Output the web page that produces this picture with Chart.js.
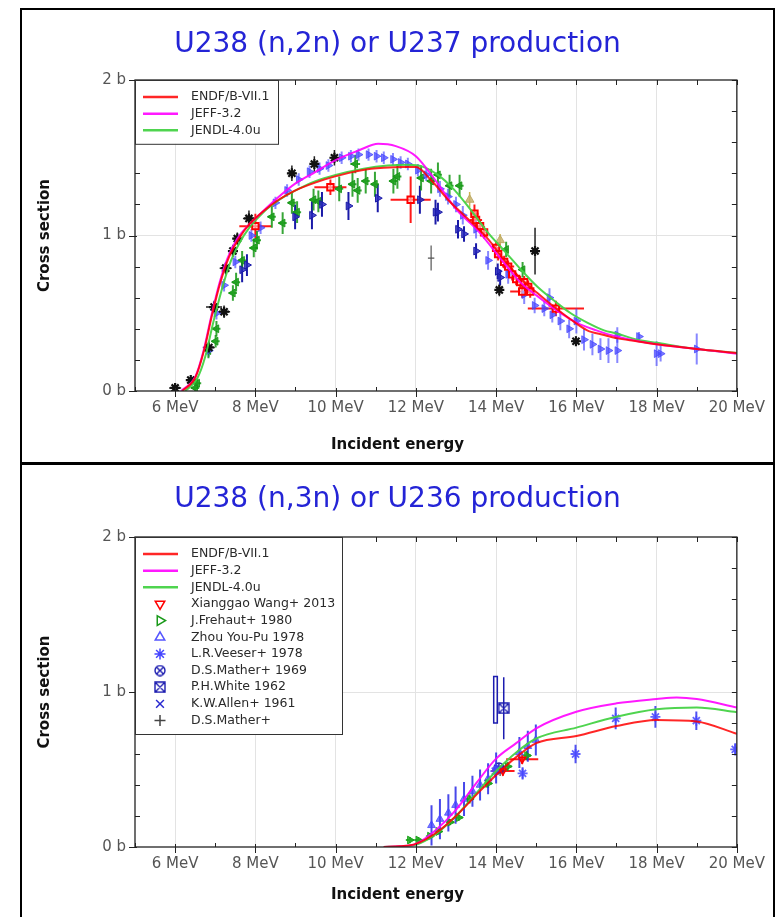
<!DOCTYPE html>
<html>
<head>
<meta charset="utf-8">
<title>U238 (n,2n) / (n,3n)</title>
<script src="https://cdn.jsdelivr.net/npm/chart.js@4.4.1/dist/chart.umd.min.js"></script>
<style>
    html, body { margin: 0; padding: 0; background: #fff; }
    body { width: 776px; height: 917px; position: relative; overflow: hidden; }
    .panel { position: absolute; left: 20px; width: 751px; border: 2px solid #000; background: #fff; }
    #panel1 { top: 8px; height: 452px; }
    #panel2 { top: 463px; height: 452px; }
    canvas { display: block; }
</style>
</head>
<body>
<div class="panel" id="panel1"><canvas id="chart2n" width="751" height="452"></canvas></div>
<div class="panel" id="panel2"><canvas id="chart3n" width="751" height="452"></canvas></div>
<script>
// U238 (n,2n) - evaluated curves
const endf2nE  = [6.18, 6.51, 6.72, 6.93, 7.13, 7.34, 7.59, 7.84, 8.17, 8.58, 9.0, 9.49, 9.99, 10.65, 11.2, 11.7, 12.0, 12.4, 12.8, 13.2, 13.79, 14.21, 14.62, 15.03, 15.45, 15.86, 16.27, 16.69, 17.0, 17.5, 18.0, 19.0, 20.0];
const endf2nXS = [0.0, 0.09, 0.26, 0.50, 0.70, 0.86, 0.98, 1.07, 1.15, 1.23, 1.29, 1.34, 1.38, 1.42, 1.435, 1.44, 1.44, 1.35, 1.23, 1.13, 0.98, 0.84, 0.72, 0.63, 0.54, 0.46, 0.39, 0.36, 0.34, 0.32, 0.30, 0.27, 0.245];
const jeff2nE  = [6.15, 6.5, 6.7, 6.9, 7.1, 7.3, 7.55, 7.8, 8.0, 8.5, 9.0, 9.44, 10.0, 10.6, 11.06, 11.5, 12.0, 12.5, 13.0, 13.55, 14.21, 14.6, 15.03, 15.5, 16.0, 16.5, 17.0, 18.0, 19.0, 20.0];
const jeff2nXS = [0.0, 0.09, 0.25, 0.48, 0.69, 0.85, 0.98, 1.06, 1.11, 1.23, 1.335, 1.40, 1.485, 1.55, 1.59, 1.575, 1.51, 1.35, 1.17, 1.03, 0.82, 0.70, 0.61, 0.52, 0.44, 0.39, 0.35, 0.30, 0.27, 0.24];
const jendl2nE  = [6.25, 6.55, 6.75, 6.95, 7.15, 7.35, 7.6, 7.85, 8.2, 8.6, 9.0, 9.5, 10.0, 10.7, 11.3, 11.8, 12.2, 12.55, 12.97, 13.38, 13.79, 14.21, 14.62, 15.03, 15.45, 15.86, 16.27, 16.69, 17.0, 17.52, 18.0, 19.0, 20.0];
const jendl2nXS = [0.0, 0.08, 0.22, 0.44, 0.64, 0.81, 0.95, 1.05, 1.15, 1.23, 1.29, 1.35, 1.39, 1.43, 1.45, 1.455, 1.44, 1.39, 1.29, 1.16, 1.02, 0.90, 0.78, 0.67, 0.58, 0.50, 0.44, 0.39, 0.37, 0.33, 0.31, 0.27, 0.245];

// U238 (n,2n) - measurements (no legend entries in the original)
const starE   = [6.0, 6.39, 6.84, 6.97, 7.22, 7.26, 7.44, 7.55, 7.84, 8.91, 9.47, 9.97, 14.08, 14.97, 15.99];
const starXS  = [0.02, 0.07, 0.28, 0.54, 0.51, 0.79, 0.90, 0.98, 1.11, 1.40, 1.46, 1.50, 0.65, 0.90, 0.32];
const starDXS = [0.01, 0.02, 0.04, 0.04, 0.04, 0.04, 0.04, 0.04, 0.05, 0.05, 0.05, 0.05, 0.04, 0.15, 0.03];
const starDE  = [0.15, 0.12, 0.15, 0.2, 0.15, 0.15, 0.12, 0.12, 0.15, 0.1, 0.1, 0.1, 0.05, 0.0, 0.1];

const greenE   = [6.5, 6.55, 6.83, 7.01, 7.03, 7.44, 7.52, 7.67, 7.96, 8.04, 8.41, 8.68, 8.91, 9.04, 9.45, 9.57, 10.09, 10.42, 10.49, 10.55, 10.75, 10.98, 11.44, 11.54, 12.13, 12.38, 12.55, 12.84, 13.09, 14.25, 14.66];
const greenXS  = [0.02, 0.05, 0.26, 0.32, 0.40, 0.63, 0.70, 0.84, 0.92, 0.97, 1.12, 1.08, 1.21, 1.15, 1.23, 1.22, 1.30, 1.33, 1.46, 1.29, 1.35, 1.33, 1.35, 1.38, 1.37, 1.35, 1.39, 1.32, 1.32, 0.91, 0.78];
const greenDXS = [0.02, 0.03, 0.05, 0.04, 0.05, 0.05, 0.06, 0.06, 0.06, 0.06, 0.07, 0.07, 0.07, 0.07, 0.07, 0.07, 0.08, 0.08, 0.06, 0.08, 0.08, 0.08, 0.08, 0.08, 0.08, 0.08, 0.08, 0.07, 0.07, 0.05, 0.05];
const greenDE  = [0.1, 0.1, 0.1, 0.1, 0.1, 0.1, 0.1, 0.1, 0.1, 0.1, 0.1, 0.1, 0.1, 0.1, 0.1, 0.1, 0.1, 0.1, 0.12, 0.1, 0.1, 0.1, 0.1, 0.1, 0.1, 0.1, 0.1, 0.1, 0.1, 0.05, 0.05];

const navyE   = [7.67, 7.79, 8.99, 9.41, 9.66, 10.32, 11.05, 12.10, 12.49, 12.55, 13.05, 13.2, 13.5, 14.04, 14.1];
const navyXS  = [0.78, 0.81, 1.12, 1.13, 1.20, 1.19, 1.24, 1.23, 1.15, 1.15, 1.04, 1.01, 0.90, 0.77, 0.73];
const navyDXS = [0.08, 0.07, 0.08, 0.09, 0.08, 0.09, 0.09, 0.09, 0.08, 0.06, 0.06, 0.05, 0.05, 0.05, 0.05];

const lblueE   = [6.84, 7.03, 7.22, 7.5, 7.9, 8.13, 8.5, 8.79, 9.08, 9.35, 9.6, 9.82, 10.15, 10.38, 10.57, 10.82, 11.02, 11.2, 11.43, 11.62, 11.8, 12.05, 12.26, 12.6, 12.8, 13.0, 13.17, 13.5, 13.8, 14.3, 14.7, 14.96, 15.2, 15.33, 15.4, 15.6, 15.82, 16.0, 16.19, 16.4, 16.6, 16.8, 17.02, 17.02, 17.56, 18.0, 18.1, 19.0];
const lblueXS  = [0.26, 0.50, 0.68, 0.83, 1.00, 1.05, 1.21, 1.29, 1.36, 1.41, 1.43, 1.45, 1.50, 1.51, 1.52, 1.52, 1.51, 1.50, 1.49, 1.47, 1.46, 1.42, 1.39, 1.30, 1.25, 1.20, 1.13, 1.04, 0.84, 0.75, 0.62, 0.55, 0.53, 0.60, 0.49, 0.45, 0.40, 0.45, 0.33, 0.30, 0.27, 0.26, 0.26, 0.36, 0.35, 0.24, 0.24, 0.27];
const lblueDXS = [0.04, 0.04, 0.04, 0.04, 0.04, 0.04, 0.04, 0.04, 0.04, 0.04, 0.04, 0.04, 0.04, 0.04, 0.04, 0.04, 0.04, 0.04, 0.04, 0.04, 0.04, 0.04, 0.04, 0.05, 0.05, 0.05, 0.06, 0.06, 0.06, 0.06, 0.06, 0.05, 0.05, 0.06, 0.05, 0.06, 0.06, 0.08, 0.07, 0.07, 0.07, 0.08, 0.08, 0.05, 0.03, 0.08, 0.05, 0.1];

const squareE   = [8.0, 9.87, 11.87, 13.46, 13.5, 13.6, 13.7, 14.0, 14.05, 14.2, 14.3, 14.4, 14.5, 14.6, 14.65, 14.7, 14.8, 14.85, 15.49];
const squareXS  = [1.06, 1.31, 1.23, 1.14, 1.10, 1.06, 1.02, 0.92, 0.88, 0.83, 0.80, 0.75, 0.72, 0.70, 0.64, 0.70, 0.67, 0.64, 0.53];
const squareDXS = [0.08, 0.05, 0.15, 0.06, 0.05, 0.04, 0.04, 0.04, 0.04, 0.04, 0.04, 0.04, 0.04, 0.04, 0.04, 0.04, 0.04, 0.04, 0.05];
const squareDE  = [0.4, 0.4, 0.5, 0.1, 0.15, 0.1, 0.1, 0.1, 0.1, 0.1, 0.15, 0.1, 0.1, 0.1, 0.3, 0.1, 0.1, 0.1, 0.7];

const tanE = [13.34, 14.1];
const tanXS = [1.23, 0.97];
const tanDXS = [0.05, 0.04];

const plusE = [12.38];
const plusXS = [0.855];
const plusDXS = [0.08];
const plusDE = [0.08];

// U238 (n,3n) - evaluated curves
const endf3nE  = [11.2, 11.6, 12.0, 12.5, 13.0, 13.5, 14.0, 14.5, 15.0, 16.0, 17.0, 18.0, 19.0, 20.0];
const endf3nXS = [0.0, 0.005, 0.02, 0.09, 0.2, 0.335, 0.465, 0.58, 0.67, 0.716, 0.78, 0.82, 0.81, 0.73];
const jeff3nE  = [11.2, 11.6, 12.0, 12.5, 13.0, 13.5, 14.0, 14.5, 15.0, 16.0, 17.0, 18.0, 18.5, 19.0, 20.0];
const jeff3nXS = [0.0, 0.005, 0.02, 0.11, 0.24, 0.41, 0.57, 0.67, 0.766, 0.873, 0.927, 0.955, 0.965, 0.955, 0.90];
const jendl3nE  = [11.2, 11.6, 12.0, 12.5, 13.0, 13.5, 14.0, 14.5, 15.0, 16.0, 17.0, 18.0, 19.0, 20.0];
const jendl3nXS = [0.0, 0.004, 0.015, 0.085, 0.2, 0.345, 0.49, 0.61, 0.70, 0.77, 0.84, 0.888, 0.90, 0.87];

// U238 (n,3n) - measurements
const wangE = [14.17, 14.65];
const wangXS = [0.49, 0.566];
const wangDXS = [0.03, 0.03];
const wangDE = [0.29, 0.40];

const frehautE   = [11.85, 12.06, 12.35, 12.56, 12.85, 13.07, 13.34, 13.8, 14.29, 14.77];
const frehautXS  = [0.045, 0.045, 0.07, 0.10, 0.16, 0.19, 0.31, 0.41, 0.52, 0.59];
const frehautDXS = [0.02, 0.02, 0.02, 0.02, 0.02, 0.02, 0.03, 0.03, 0.03, 0.03];
const frehautDE  = [0.1, 0.1, 0.1, 0.1, 0.1, 0.1, 0.1, 0.1, 0.1, 0.1];

const zhouE   = [12.39, 12.6, 12.81, 12.99, 13.2, 13.41, 13.6, 13.8, 14.0, 14.58, 14.79, 14.99];
const zhouXS  = [0.14, 0.18, 0.22, 0.27, 0.31, 0.36, 0.40, 0.44, 0.51, 0.61, 0.65, 0.69];
const zhouDXS = [0.13, 0.13, 0.12, 0.12, 0.11, 0.10, 0.10, 0.10, 0.10, 0.10, 0.10, 0.10];

const veeserE   = [13.98, 14.66, 15.98, 16.98, 17.97, 18.99, 19.96];
const veeserXS  = [0.49, 0.475, 0.60, 0.83, 0.84, 0.815, 0.63];
const veeserDXS = [0.04, 0.04, 0.06, 0.07, 0.07, 0.06, 0.04];

const mather69E = [14.07];
const mather69XS = [0.51];
const mather69DXS = [0.03];

const whiteE = [14.19];
const whiteXS = [0.895];
const whiteDXS = [0.2];
const whiteBoxE = [13.985];
const whiteBoxXS = [0.95];
const whiteBoxDE = [0.045];
const whiteBoxDXS = [0.15];

const allenE = [14.1];
const allenXS = [0.50];
const matherE = [14.1];
const matherXS = [0.49];

const FONT = '"DejaVu Sans", Verdana, sans-serif';

// pair up energies / cross sections (+ optional errors)
function pts(es, xs, dxs, des) {
    return es.map((e, i) => ({
        x: e,
        y: xs[i],
        dy: dxs ? dxs[i] : 0,
        dx: des ? des[i] : 0
    }));
}

// small symbol images for circle-cross and box-cross markers
function symbol(kind, color) {
    const c = document.createElement('canvas');
    c.width = c.height = 12;
    const g = c.getContext('2d');
    g.strokeStyle = color;
    g.lineWidth = 1.4;
    const m = 6, r = 5;
    g.beginPath();
    if (kind === 'circle') {
        g.arc(m, m, r, 0, Math.PI * 2);
        const d = r * 0.707;
        g.moveTo(m - d, m - d); g.lineTo(m + d, m + d);
        g.moveTo(m - d, m + d); g.lineTo(m + d, m - d);
    } else {
        g.rect(1, 1, 10, 10);
        g.moveTo(1, 1); g.lineTo(11, 11);
        g.moveTo(1, 11); g.lineTo(11, 1);
    }
    g.stroke();
    return c;
}

function curve(label, data, color) {
    return {
        label, data, showLine: true, borderColor: color, backgroundColor: color,
        borderWidth: 2, pointRadius: 0, cubicInterpolationMode: 'monotone'
    };
}

function marks(label, data, style) {
    return Object.assign({ label, data, showLine: false, errWidth: 1.5 }, style);
}

// error bars, drawn under the markers
const errorBars = {
    id: 'errorBars',
    beforeDatasetsDraw(chart) {
        const { ctx, chartArea: a, scales: { x, y } } = chart;
        ctx.save();
        ctx.beginPath();
        ctx.rect(a.left, a.top, a.right - a.left, a.bottom - a.top);
        ctx.clip();
        chart.data.datasets.forEach(ds => {
            if (!ds.errColor) return;
            ctx.strokeStyle = ds.errColor;
            ctx.lineWidth = ds.errWidth;
            ds.data.forEach(p => {
                const px = x.getPixelForValue(p.x);
                const py = y.getPixelForValue(p.y);
                if (ds.errBox) {
                    const x0 = x.getPixelForValue(p.x - p.dx), x1 = x.getPixelForValue(p.x + p.dx);
                    const y0 = y.getPixelForValue(p.y + p.dy), y1 = y.getPixelForValue(p.y - p.dy);
                    ctx.strokeRect(x0, y0, x1 - x0, y1 - y0);
                    return;
                }
                ctx.beginPath();
                if (p.dy) {
                    ctx.moveTo(px, y.getPixelForValue(p.y - p.dy));
                    ctx.lineTo(px, y.getPixelForValue(p.y + p.dy));
                }
                if (p.dx) {
                    ctx.moveTo(x.getPixelForValue(p.x - p.dx), py);
                    ctx.lineTo(x.getPixelForValue(p.x + p.dx), py);
                }
                ctx.stroke();
            });
        });
        ctx.restore();
    }
};

// frame of the plot with tick marks on all four sides
const boxTicks = {
    id: 'boxTicks',
    afterDatasetsDraw(chart) {
        const { ctx, chartArea: a, scales: { x, y } } = chart;
        ctx.save();
        ctx.strokeStyle = '#222';
        ctx.lineWidth = 1;
        ctx.beginPath();
        x.ticks.forEach(t => {
            const px = Math.round(x.getPixelForValue(t.value)) + 0.5;
            const major = t.value % 2 === 0;
            ctx.moveTo(px, a.bottom + (major ? 6 : 0));
            ctx.lineTo(px, a.bottom - (major ? 3 : 4));
            ctx.moveTo(px, a.top);
            ctx.lineTo(px, a.top + 5);
        });
        y.ticks.forEach(t => {
            const py = Math.round(y.getPixelForValue(t.value)) + 0.5;
            const major = Math.abs(t.value - Math.round(t.value)) < 1e-6;
            ctx.moveTo(a.left - (major ? 6 : 0), py);
            ctx.lineTo(a.left + (major ? 2 : 5), py);
            ctx.moveTo(a.right, py);
            ctx.lineTo(a.right - 5, py);
        });
        ctx.stroke();
        ctx.lineWidth = 1.3;
        ctx.strokeRect(a.left, a.top, a.right - a.left, a.bottom - a.top);
        ctx.restore();
    }
};

// legend box sitting in the top-left corner of the plot
const boxLegend = {
    id: 'boxLegend',
    afterDraw(chart, args, opts) {
        const { ctx, chartArea: a } = chart;
        const items = chart.data.datasets.filter(d => d.label);
        const rowH = 16.65;
        const h = 17 + (items.length - 1) * rowH + 13.5;
        ctx.save();
        ctx.fillStyle = '#fff';
        ctx.fillRect(a.left, a.top, opts.width, h);
        ctx.strokeStyle = '#333';
        ctx.lineWidth = 1;
        ctx.strokeRect(a.left + 0.5, a.top + 0.5, opts.width, h);
        ctx.font = '12.5px ' + FONT;
        ctx.textBaseline = 'middle';
        items.forEach((d, i) => {
            const yy = a.top + 17 + i * rowH;
            if (d.showLine) {
                ctx.strokeStyle = d.borderColor;
                ctx.lineWidth = 2.5;
                ctx.beginPath();
                ctx.moveTo(a.left + 8, yy);
                ctx.lineTo(a.left + 43, yy);
                ctx.stroke();
            } else {
                ctx.strokeStyle = d.legendColor || d.borderColor;
                ctx.fillStyle = '#fff';
                ctx.lineWidth = 1.5;
                Chart.helpers.drawPoint(ctx, {
                    pointStyle: d.pointStyle,
                    rotation: d.pointRotation || 0,
                    radius: 5.5,
                    borderWidth: 1.5
                }, a.left + 25, yy);
            }
            ctx.fillStyle = '#2a2a2a';
            ctx.fillText(d.label, a.left + 56, yy);
        });
        ctx.restore();
    }
};

function makeChart(id, titleText, datasets, opts) {
    return new Chart(document.getElementById(id), {
        type: 'scatter',
        data: { datasets },
        options: {
            responsive: false,
            animation: false,
            devicePixelRatio: 1,
            events: [],
            layout: { padding: 0 },
            plugins: {
                legend: { display: false },
                tooltip: { enabled: false },
                title: {
                    display: true,
                    text: titleText,
                    color: '#2424d6',
                    font: { family: FONT, size: 28, weight: 'normal' },
                    padding: { top: 18.2, bottom: opts.titleBottom }
                },
                subtitle: {
                    display: true,
                    position: 'bottom',
                    text: 'Incident energy',
                    color: '#111',
                    font: { family: FONT, size: 15, weight: 'bold' },
                    padding: { top: opts.subTop, bottom: opts.subBottom }
                },
                boxLegend: { width: opts.legendWidth }
            },
            scales: {
                x: {
                    type: 'linear',
                    min: 5,
                    max: 20,
                    border: { display: false },
                    grid: {
                        drawTicks: false,
                        color: c => (c.tick && c.tick.value % 2 === 0) ? '#e3e3e3' : 'rgba(0,0,0,0)'
                    },
                    ticks: {
                        stepSize: 1,
                        autoSkip: false,
                        maxRotation: 0,
                        padding: 8,
                        color: '#555',
                        font: { family: FONT, size: 15 },
                        callback: v => (v % 2 === 0 && v >= 6) ? v + ' MeV' : ''
                    },
                    afterFit: s => { s.height = opts.xHeight; }
                },
                y: {
                    type: 'linear',
                    min: 0,
                    max: 2,
                    border: { display: false },
                    grid: {
                        drawTicks: false,
                        color: c => (c.tick && Math.abs(c.tick.value - 1) < 1e-6) ? '#e3e3e3' : 'rgba(0,0,0,0)'
                    },
                    ticks: {
                        stepSize: 0.2,
                        autoSkip: false,
                        padding: 9,
                        color: '#555',
                        font: { family: FONT, size: 15 },
                        callback: v => Math.abs(v - Math.round(v)) < 1e-6 ? Math.round(v) + ' b' : ''
                    },
                    title: {
                        display: true,
                        text: 'Cross section',
                        color: '#111',
                        font: { family: FONT, size: 15, weight: 'bold' },
                        padding: { top: 14, bottom: 0 }
                    },
                    afterFit: s => { s.width = 113; }
                },
                y2: {
                    type: 'linear',
                    position: 'right',
                    min: 0,
                    max: 2,
                    border: { display: false },
                    grid: { display: false, drawTicks: false },
                    ticks: { display: false },
                    afterFit: s => { s.width = 33; }
                }
            }
        },
        plugins: [errorBars, boxTicks, boxLegend]
    });
}

const RED = 'rgba(255,0,0,0.85)';
const MAGENTA = 'rgba(255,0,255,0.9)';
const GREEN = 'rgba(70,210,70,0.95)';

// (n,2n) panel
makeChart('chart2n', 'U238 (n,2n) or U237 production', [
    curve('ENDF/B-VII.1', pts(endf2nE, endf2nXS), RED),
    curve('JEFF-3.2', pts(jeff2nE, jeff2nXS), MAGENTA),
    curve('JENDL-4.0u', pts(jendl2nE, jendl2nXS), GREEN),
    marks('', pts(squareE, squareXS, squareDXS, squareDE), {
        pointStyle: 'rect', pointRadius: 4.5, borderWidth: 2,
        borderColor: '#f00', backgroundColor: 'rgba(255,255,255,0.5)',
        errColor: 'rgba(255,0,0,0.9)', errWidth: 2
    }),
    marks('', pts(starE, starXS, starDXS, starDE), {
        pointStyle: 'star', pointRadius: 5, borderWidth: 2.2,
        borderColor: '#111', backgroundColor: '#111', errColor: '#222'
    }),
    marks('', pts(plusE, plusXS, plusDXS, plusDE), {
        pointStyle: 'cross', pointRadius: 0, borderWidth: 1,
        borderColor: '#555', errColor: '#555', errWidth: 1.2
    }),
    marks('', pts(tanE, tanXS, tanDXS), {
        pointStyle: 'triangle', pointRadius: 5, borderWidth: 1,
        borderColor: 'rgba(185,165,95,0.9)', backgroundColor: 'rgba(200,180,110,0.85)',
        errColor: 'rgba(200,170,60,0.9)'
    }),
    marks('', pts(lblueE, lblueXS, lblueDXS), {
        pointStyle: 'triangle', pointRotation: 90, pointRadius: 4.5, borderWidth: 1,
        borderColor: 'rgba(70,70,255,0.75)', backgroundColor: 'rgba(70,70,255,0.7)',
        errColor: 'rgba(70,70,255,0.65)', errWidth: 2
    }),
    marks('', pts(navyE, navyXS, navyDXS), {
        pointStyle: 'triangle', pointRotation: 90, pointRadius: 4.5, borderWidth: 1,
        borderColor: '#1a1aa8', backgroundColor: 'rgba(40,40,190,0.8)',
        errColor: '#1a1aa8', errWidth: 2
    }),
    marks('', pts(greenE, greenXS, greenDXS, greenDE), {
        pointStyle: 'triangle', pointRotation: -90, pointRadius: 4.5, borderWidth: 1,
        borderColor: 'rgba(20,150,20,0.9)', backgroundColor: 'rgba(30,160,30,0.85)',
        errColor: 'rgba(20,150,20,0.85)', errWidth: 2
    })
], { legendWidth: 143, titleBottom: 18.2, xHeight: 40, subTop: 5, subBottom: 8 });

// (n,3n) panel
makeChart('chart3n', 'U238 (n,3n) or U236 production', [
    curve('ENDF/B-VII.1', pts(endf3nE, endf3nXS), RED),
    curve('JEFF-3.2', pts(jeff3nE, jeff3nXS), MAGENTA),
    curve('JENDL-4.0u', pts(jendl3nE, jendl3nXS), GREEN),
    marks('Xianggao Wang+ 2013', pts(wangE, wangXS, wangDXS, wangDE), {
        pointStyle: 'triangle', pointRotation: 180, pointRadius: 4, borderWidth: 1.5,
        borderColor: '#f00', backgroundColor: 'rgba(255,0,0,0.4)',
        errColor: 'rgba(255,0,0,0.9)', errWidth: 2
    }),
    marks('J.Frehaut+ 1980', pts(frehautE, frehautXS, frehautDXS, frehautDE), {
        pointStyle: 'triangle', pointRotation: 90, pointRadius: 4.5, borderWidth: 1,
        borderColor: 'rgba(20,160,20,0.9)', backgroundColor: 'rgba(30,170,30,0.8)',
        legendColor: '#1a9a1a', errColor: 'rgba(20,160,20,0.85)', errWidth: 2
    }),
    marks('Zhou You-Pu 1978', pts(zhouE, zhouXS, zhouDXS), {
        pointStyle: 'triangle', pointRadius: 4.5, borderWidth: 1,
        borderColor: 'rgba(70,70,255,0.8)', backgroundColor: 'rgba(70,70,255,0.7)',
        legendColor: '#5555ff', errColor: 'rgba(40,40,230,0.85)', errWidth: 2
    }),
    marks('L.R.Veeser+ 1978', pts(veeserE, veeserXS, veeserDXS), {
        pointStyle: 'star', pointRadius: 5, borderWidth: 1.8,
        borderColor: 'rgba(70,70,255,0.85)', backgroundColor: 'rgba(70,70,255,0.85)',
        legendColor: '#4444ff', errColor: 'rgba(50,50,240,0.85)', errWidth: 2
    }),
    marks('D.S.Mather+ 1969', pts(mather69E, mather69XS, mather69DXS), {
        pointStyle: symbol('circle', '#1c1cb0'), pointRadius: 6, borderWidth: 1,
        borderColor: '#1c1cb0', errColor: '#1c1cb0'
    }),
    marks('P.H.White 1962', pts(whiteE, whiteXS, whiteDXS), {
        pointStyle: symbol('box', '#1c1cb0'), pointRadius: 6, borderWidth: 1,
        borderColor: '#1c1cb0', errColor: '#1c1cb0'
    }),
    marks('K.W.Allen+ 1961', pts(allenE, allenXS), {
        pointStyle: 'crossRot', pointRadius: 4.5, borderWidth: 1.5,
        borderColor: '#2a2ad0'
    }),
    marks('D.S.Mather+', pts(matherE, matherXS), {
        pointStyle: 'cross', pointRadius: 5, borderWidth: 1.2,
        borderColor: '#444'
    }),
    marks('', pts(whiteBoxE, whiteBoxXS, whiteBoxDXS, whiteBoxDE), {
        pointRadius: 0, borderColor: '#1c1cb0', errColor: '#1c1cb0', errBox: true
    })
], { legendWidth: 207, titleBottom: 20.2, xHeight: 36, subTop: 3, subBottom: 13 });
</script>
</body>
</html>
